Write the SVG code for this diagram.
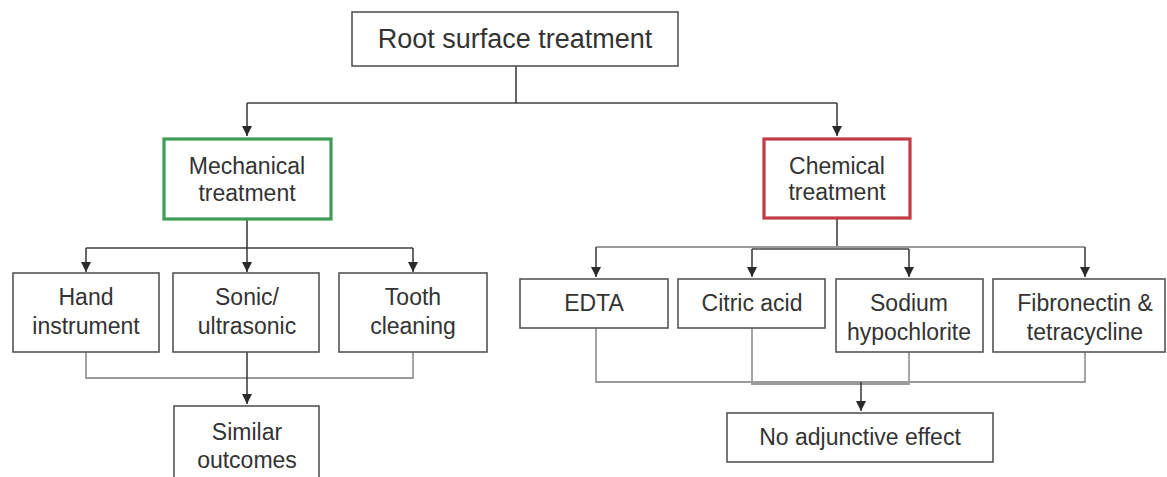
<svg xmlns="http://www.w3.org/2000/svg" width="1167" height="477" viewBox="0 0 1167 477">
<defs>
<marker id="ah" viewBox="0 0 10 10" refX="10" refY="5" markerWidth="10" markerHeight="10" markerUnits="userSpaceOnUse" orient="auto">
<path d="M0,0 L10,5 L0,10 z" fill="#2a2a2a"/>
</marker>
</defs>
<style>
.box{fill:#fff;stroke:#555;stroke-width:1.6}
.mech{fill:#fff;stroke:#3f9d55;stroke-width:3.2}
.chem{fill:#fff;stroke:#c23b47;stroke-width:3.2}
.t{font-family:"Liberation Sans",Arial,sans-serif;font-size:23px;fill:#333;text-anchor:middle}
.root{font-size:27px}
.dk{fill:none;stroke:#404040;stroke-width:1.6}
.gr{fill:none;stroke:#9a9a9a;stroke-width:1.8}
</style>
<rect width="1167" height="477" fill="#fff"/>
<g id="connectors">
<path class="dk" d="M516,66 V103 M247,103 H837"/>
<path class="dk" d="M247,103 V136" marker-end="url(#ah)"/>
<path class="dk" d="M837,103 V136" marker-end="url(#ah)"/>
<path class="dk" d="M247,220 V248 M86,248 H413"/>
<path class="dk" d="M86,248 V272" marker-end="url(#ah)"/>
<path class="dk" d="M247,248 V272" marker-end="url(#ah)"/>
<path class="dk" d="M413,248 V272" marker-end="url(#ah)"/>
<path class="gr" d="M86,352 V378 H413 V352"/>
<path class="dk" d="M247,352 V404" marker-end="url(#ah)"/>
<path class="dk" d="M837,218 V247"/>
<path class="gr" d="M596,247 H1085"/>
<path class="dk" d="M752,249 H909"/>
<path class="dk" d="M596,247 V277" marker-end="url(#ah)"/>
<path class="dk" d="M752,249 V277" marker-end="url(#ah)"/>
<path class="dk" d="M909,249 V277" marker-end="url(#ah)"/>
<path class="dk" d="M1085,247 V277" marker-end="url(#ah)"/>
<path class="gr" d="M596,328 V382 H1085 V352 M752,328 V384 H909 V352"/>
<path class="dk" d="M861,382 V411" marker-end="url(#ah)"/>
</g>
<g id="root"><rect class="box" x="352" y="12" width="326" height="54"/><text class="t root" x="515" y="48">Root surface treatment</text></g>
<g id="mechanical"><rect class="mech" x="164" y="139" width="167" height="80"/><text class="t" x="247" y="174">Mechanical</text><text class="t" x="247" y="201">treatment</text></g>
<g id="chemical"><rect class="chem" x="764" y="139" width="146" height="79"/><text class="t" x="837" y="174">Chemical</text><text class="t" x="837" y="200">treatment</text></g>
<g id="hand"><rect class="box" x="13" y="273" width="146" height="79"/><text class="t" x="86" y="305">Hand</text><text class="t" x="86" y="334">instrument</text></g>
<g id="sonic"><rect class="box" x="173" y="273" width="146" height="79"/><text class="t" x="247" y="305">Sonic/</text><text class="t" x="247" y="334">ultrasonic</text></g>
<g id="tooth"><rect class="box" x="339" y="273" width="148" height="79"/><text class="t" x="413" y="305">Tooth</text><text class="t" x="413" y="334">cleaning</text></g>
<g id="similar"><rect class="box" x="174" y="406" width="145" height="80"/><text class="t" x="247" y="440">Similar</text><text class="t" x="247" y="468">outcomes</text></g>
<g id="edta"><rect class="box" x="520" y="279" width="148" height="49"/><text class="t" x="594" y="311">EDTA</text></g>
<g id="citric"><rect class="box" x="678" y="279" width="147" height="49"/><text class="t" x="752" y="311">Citric acid</text></g>
<g id="sodium"><rect class="box" x="836" y="279" width="147" height="73"/><text class="t" x="909" y="311">Sodium</text><text class="t" x="909" y="340">hypochlorite</text></g>
<g id="fibronectin"><rect class="box" x="993" y="279" width="172" height="73"/><text class="t" x="1085" y="311">Fibronectin &amp;</text><text class="t" x="1085" y="340">tetracycline</text></g>
<g id="noadj"><rect class="box" x="727" y="413" width="266" height="49"/><text class="t" x="860" y="445">No adjunctive effect</text></g>
</svg>
